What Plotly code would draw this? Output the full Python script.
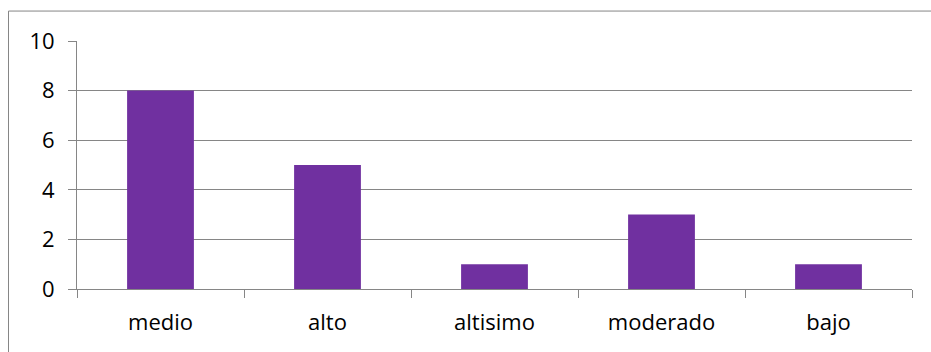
import plotly.graph_objects as go

categories = ["medio", "alto", "altisimo", "moderado", "bajo"]
values = [8, 5, 1, 3, 1]
y_ticks = [0, 2, 4, 6, 8, 10]

W, H = 931, 352
L, R, T, B = 77, 912, 40.5, 289
pw, ph = R - L, B - T

fig = go.Figure(go.Bar(x=categories, y=values, marker=dict(color="#7030A0", line=dict(width=0)), width=0.4))

font = dict(family="Open Sans, Liberation Sans, sans-serif", size=22, color="#000000")
fig.update_layout(
    width=W, height=H,
    margin=dict(l=L, r=W - R, t=T, b=H - B, pad=0),
    paper_bgcolor="white", plot_bgcolor="white",
    showlegend=False,
    font=font,
    xaxis=dict(
        showgrid=False, showline=True, linecolor="#868686", linewidth=1,
        ticks="outside", ticklen=8, tickcolor="#868686", tickson="boundaries",
        tickfont=font, ticklabelstandoff=14,
    ),
    yaxis=dict(
        range=[0, 10], tickvals=y_ticks, showgrid=True, gridcolor="#868686", gridwidth=1,
        showline=True, linecolor="#868686", linewidth=1,
        ticks="outside", ticklen=8, tickcolor="#868686",
        zeroline=False, tickfont=font, ticklabelstandoff=9,
    ),
    shapes=[dict(
        type="rect", xref="paper", yref="paper",
        x0=(8.5 - L) / pw, x1=(940 - L) / pw,
        y0=(B - 360) / ph, y1=(B - 10.5) / ph,
        line=dict(color="#868686", width=1), fillcolor="rgba(0,0,0,0)", layer="below",
    )],
)

fig.write_html("out.html")
